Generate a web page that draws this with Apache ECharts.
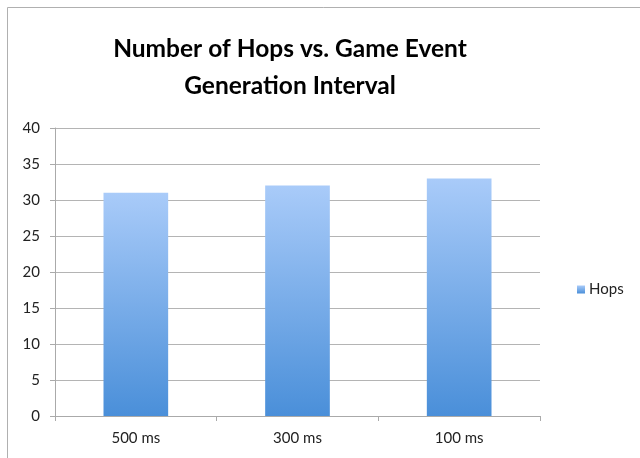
<!DOCTYPE html>
<html><head><meta charset="utf-8">
<script src="https://cdn.jsdelivr.net/npm/echarts@6/dist/echarts.min.js"></script>
<style>html,body{margin:0;padding:0;background:#fff}#c{width:640px;height:458px}</style>
</head><body><div id="c"></div>
<script>
const categories = ["500 ms", "300 ms", "100 ms"];
const hops = [31, 32, 33];
const yTicks = [0, 5, 10, 15, 20, 25, 30, 35, 40];

const chart = echarts.init(document.getElementById('c'), null, {renderer: 'canvas'});
chart.setOption({
  animation: false,
  backgroundColor: '#fff',
  graphic: [{
    type: 'polyline', silent: true,
    shape: {points: [[7.5, 458], [7.5, 7.5], [640, 7.5]]},
    style: {stroke: '#b0b0b0', lineWidth: 1, fill: null}
  }],
  title: {
    text: 'Number of Hops vs. Game Event\nGeneration Interval',
    left: 285, top: 26, textAlign: 'center',
    textStyle: {fontFamily: 'Lato', fontWeight: 'bold', fontSize: 24.5, lineHeight: 37, color: '#000'}
  },
  legend: {
    data: ['Hops'], left: 572, top: 277, orient: 'vertical',
    itemWidth: 8, itemHeight: 8, itemGap: 5,
    icon: 'rect',
    textStyle: {fontFamily: 'Lato', fontSize: 15, color: '#222', padding: [0,0,0,-1]}
  },
  grid: {left: 55, right: 100, top: 128, bottom: 42, containLabel: false},
  xAxis: {
    type: 'category', data: categories,
    axisLine: {lineStyle: {color: '#aaa'}},
    axisTick: {show: true, length: 5, alignWithLabel: false, lineStyle: {color: '#aaa'}},
    axisLabel: {fontFamily: 'Lato', fontSize: 15, color: '#222', margin: 15},
    splitLine: {show: false}
  },
  yAxis: {
    type: 'value', min: yTicks[0], max: yTicks[yTicks.length - 1], interval: 5,
    axisLine: {show: true, lineStyle: {color: '#aaa'}},
    axisTick: {show: true, length: 5, lineStyle: {color: '#aaa'}},
    axisLabel: {fontFamily: 'Lato', fontSize: 15, color: '#222', margin: 15},
    splitLine: {lineStyle: {color: '#b4b4b4'}}
  },
  series: [{
    name: 'Hops', type: 'bar', data: hops, barWidth: '40%',
    itemStyle: {
      color: new echarts.graphic.LinearGradient(0, 0, 0, 1, [
        {offset: 0, color: '#a9cbf9'},
        {offset: 1, color: '#4a8fd9'}
      ])
    }
  }]
});
</script></body></html>
